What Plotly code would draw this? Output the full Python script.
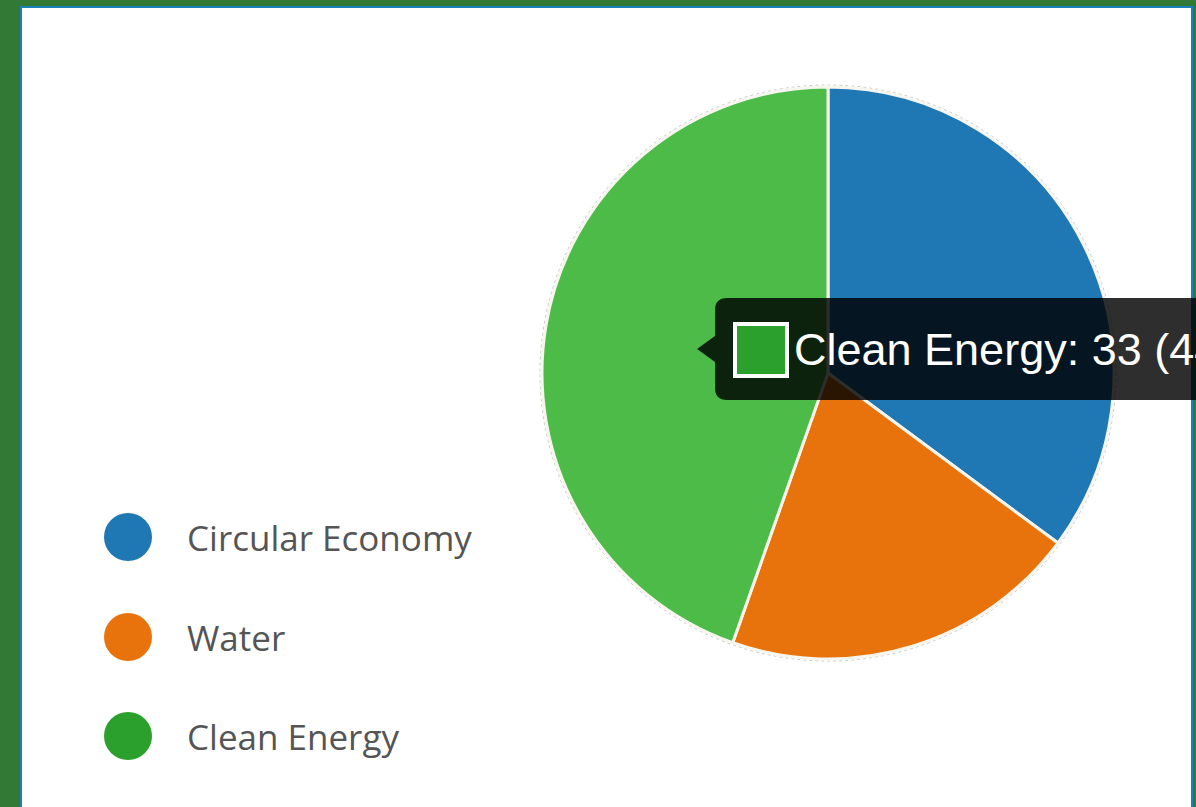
import plotly.graph_objects as go

# ---- data ----
categories = ["Circular Economy", "Water", "Clean Energy"]
values = [26, 15, 33]
legend_colors = ["#1f77b4", "#e8730c", "#2ca02c"]
slice_colors = ["#1f77b4", "#e8730c", "#4cbb47"]
hovered = "Clean Energy"

W, H = 1196, 807


def px(x):
    return x / W


def py(y):
    return 1 - y / H


fig = go.Figure()

# pie
cx, cy, r = 828, 373, 286
fig.add_trace(go.Pie(
    labels=categories,
    values=values,
    sort=False,
    direction="clockwise",
    rotation=0,
    marker=dict(colors=slice_colors, line=dict(color="#f6f6ee", width=3)),
    textinfo="none",
    hoverinfo="skip",
    showlegend=False,
    domain=dict(x=[px(cx - r), px(cx + r)], y=[py(cy + r), py(cy - r)]),
))

shapes = []
# white panel with blue edge
shapes.append(dict(type="rect", xref="paper", yref="paper",
                   x0=px(21), x1=px(1192), y0=-0.02, y1=py(7),
                   fillcolor="white", line=dict(color="#1a80b8", width=2),
                   layer="below"))
# faint outline around pie
shapes.append(dict(type="circle", xref="paper", yref="paper",
                   x0=px(cx - r - 2), x1=px(cx + r + 2), y0=py(cy + r + 2), y1=py(cy - r - 2),
                   line=dict(color="#c8c8c8", width=1, dash="dot"), layer="below"))

annotations = []
# custom legend (circles + text)
leg_y = [537, 637, 736]
for cat, col, yy in zip(categories, legend_colors, leg_y):
    shapes.append(dict(type="circle", xref="paper", yref="paper",
                       x0=px(104), x1=px(152), y0=py(yy + 24), y1=py(yy - 24),
                       fillcolor=col, line=dict(width=0)))
    annotations.append(dict(xref="paper", yref="paper", x=px(185), y=py(yy),
                            xanchor="left", yanchor="middle", showarrow=False,
                            text=cat, font=dict(family="Open Sans", size=35, color="#555555")))

# tooltip box
L, T, B, R, rad = 715, 298, 400, 1215, 12
tip_x, tip_y = 697, 349


def P(x, y):
    return f"{px(x)},{py(y)}"


path = (f"M {P(L + rad, T)} L {P(R, T)} L {P(R, B)} L {P(L + rad, B)} "
        f"Q {P(L, B)} {P(L, B - rad)} L {P(L, 362)} L {P(tip_x, tip_y)} L {P(L, 336)} "
        f"L {P(L, T + rad)} Q {P(L, T)} {P(L + rad, T)} Z")
shapes.append(dict(type="path", xref="paper", yref="paper", path=path,
                   fillcolor="rgba(0,0,0,0.82)", line=dict(width=0), layer="above"))
idx = categories.index(hovered)
shapes.append(dict(type="rect", xref="paper", yref="paper",
                   x0=px(735), x1=px(787), y0=py(376), y1=py(324),
                   fillcolor=legend_colors[idx], line=dict(color="white", width=4), layer="above"))
pct = values[idx] / sum(values) * 100
annotations.append(dict(xref="paper", yref="paper", x=px(792), y=py(349),
                        xanchor="left", yanchor="middle", showarrow=False,
                        text=f"{hovered}: {values[idx]} ({pct:.1f}%)",
                        font=dict(family="Liberation Sans", size=45, color="white")))

fig.update_layout(
    width=W, height=H,
    margin=dict(l=0, r=0, t=0, b=0),
    paper_bgcolor="#337936",
    plot_bgcolor="white",
    shapes=shapes,
    annotations=annotations,
    showlegend=False,
)

fig.write_html("out.html", config={"displayModeBar": False},
               post_script="document.body.style.margin='0px';document.body.style.overflow='hidden';")
